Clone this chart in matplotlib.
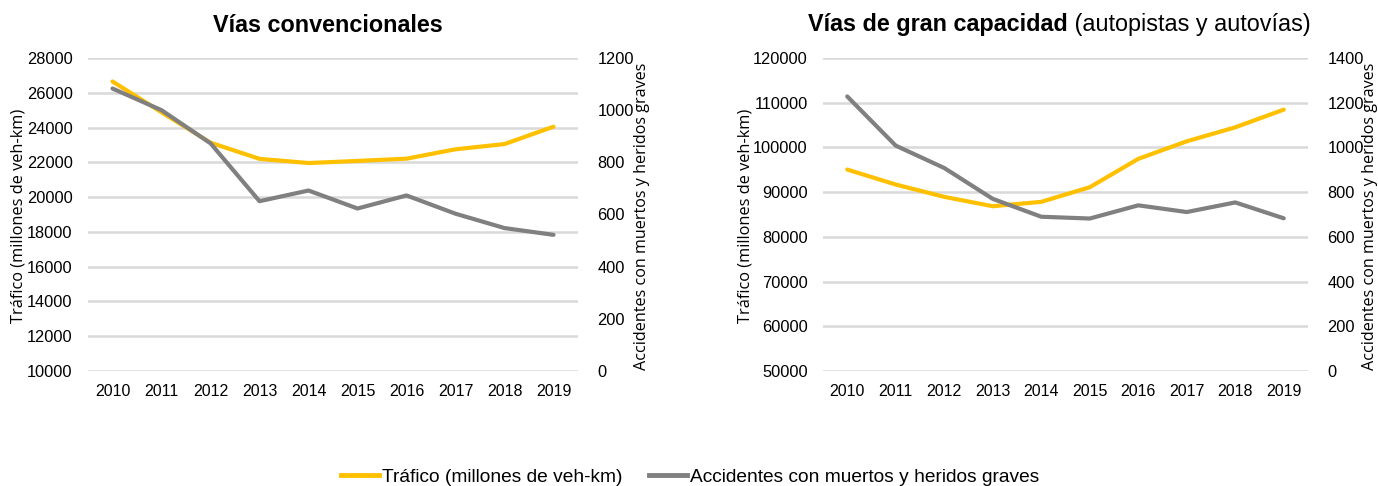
import matplotlib
matplotlib.use('Agg')
import matplotlib.pyplot as plt
from matplotlib.lines import Line2D

years = ['2010', '2011', '2012', '2013', '2014', '2015', '2016', '2017', '2018', '2019']

# Vías convencionales
trafico_conv = [26650, 24880, 23130, 22200, 21960, 22080, 22210, 22750, 23050, 24050]
accid_conv = [1083, 1000, 873, 651, 692, 623, 673, 603, 548, 522]

# Vías de gran capacidad
trafico_gc = [95050, 91700, 88950, 86850, 87830, 91100, 97440, 101370, 104500, 108450]
accid_gc = [1228, 1008, 908, 770, 690, 682, 741, 711, 754, 683]

YELLOW = '#FFC000'
GRAY = '#808080'
GRID = '#D9D9D9'
tick_font = ['Liberation Sans', 'DejaVu Sans']
label_font = ['Open Sans', 'DejaVu Sans']

fig = plt.figure(figsize=(13.78, 4.86), dpi=100)
W, H = 1378, 486


def make_panel(x0, x1, trafico, accid, ylim_l, yticks_l, ylim_r, yticks_r, lab_lx, lab_rx):
    ax = fig.add_axes([x0 / W, 1 - 371 / H, (x1 - x0) / W, (371 - 58) / H])
    ax2 = ax.twinx()
    x = list(range(len(years)))
    ax.plot(x, trafico, color=YELLOW, lw=3, solid_capstyle='round', zorder=3)
    ax2.plot(x, accid, color=GRAY, lw=3, solid_capstyle='round', zorder=3)
    ax.set_xlim(-0.5, len(years) - 0.5)
    ax.set_ylim(*ylim_l)
    ax.set_yticks(yticks_l)
    ax2.set_ylim(*ylim_r)
    ax2.set_yticks(yticks_r)
    ax.set_xticks(x)
    ax.set_xticklabels(years)
    ax.yaxis.grid(True, color=GRID, lw=1.8)
    ax.set_axisbelow(True)
    for a in (ax, ax2):
        for s in a.spines.values():
            s.set_visible(False)
        a.tick_params(length=0, labelsize=11.8, colors='#000000')
        for lab in a.get_xticklabels() + a.get_yticklabels():
            lab.set_family(tick_font)
    ax.tick_params(axis='x', pad=9, labelsize=11.5)
    ax.tick_params(axis='y', pad=11)
    ax2.tick_params(axis='y', pad=14)
    fig.text(lab_lx / W, 1 - 216 / H, 'Tráfico (millones de veh-km)', rotation=90,
             ha='center', va='center', fontsize=11.8, family=label_font)
    fig.text(lab_rx / W, 1 - 216 / H, 'Accidentes con muertos y heridos graves', rotation=90,
             ha='center', va='center', fontsize=11.6, family=label_font)
    return ax, ax2


make_panel(88, 578, trafico_conv, accid_conv, (10000, 28000), range(10000, 28001, 2000),
           (0, 1200), range(0, 1201, 200), 19, 642)
make_panel(823, 1308, trafico_gc, accid_gc, (50000, 120000), range(50000, 120001, 10000),
           (0, 1400), range(0, 1401, 200), 746, 1370)

# titles
fig.text(328 / W, 1 - 25 / H, 'Vías convencionales', ha='center', va='center',
         fontsize=16.8, fontweight='bold', family=tick_font)
t1 = fig.text(0, 1 - 25 / H, 'Vías de gran capacidad', ha='left', va='center',
              fontsize=16.8, fontweight='bold', family=tick_font)
t2 = fig.text(0, 1 - 25 / H, ' (autopistas y autovías)', ha='left', va='center',
              fontsize=16.8, family=tick_font)
r = fig.canvas.get_renderer()
w1 = t1.get_window_extent(r).width
w2 = t2.get_window_extent(r).width
start = 1059 - (w1 + w2) / 2
t1.set_x(start / W)
t2.set_x((start + w1) / W)

handles = [Line2D([], [], color=YELLOW, lw=3.5),
           Line2D([], [], color=GRAY, lw=3.5)]
fig.legend(handles, ['Tráfico (millones de veh-km)', 'Accidentes con muertos y heridos graves'],
           loc='center', bbox_to_anchor=(690 / W, 1 - 477 / H), ncol=2, frameon=False,
           prop={'family': tick_font, 'size': 13.8}, handlelength=2.0, handletextpad=0.15,
           columnspacing=1.4)

fig.savefig('out.png', dpi=100)
